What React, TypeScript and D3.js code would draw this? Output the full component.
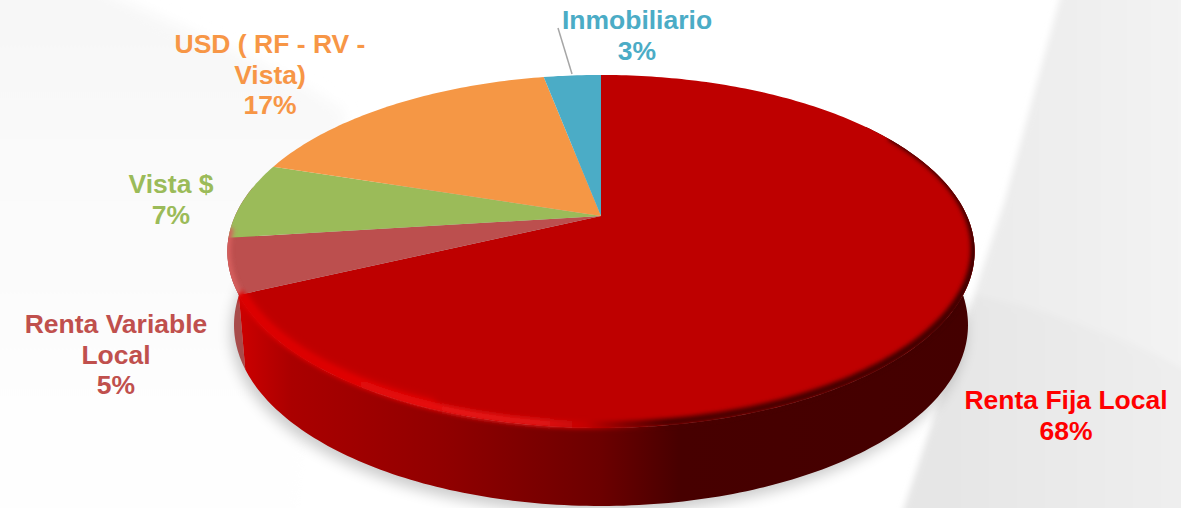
import React, { useEffect, useRef } from 'react';
import * as d3 from 'd3';

const categories = ['Renta Fija Local', 'Renta Variable Local', 'Vista $', 'USD ( RF - RV - Vista)', 'Inmobiliario'];
const values = [68, 5, 7, 17, 3];
const faceColors = ['#be0000', '#bc4f4e', '#9bbb59', '#f59745', '#4bacc6'];
const wallColors = ['url(#wallRed)', '#a84c4b', '#7f9a48', '#c97a38', '#3b8da3'];
const labelColors = ['#ff0000', '#c0504d', '#9bbb59', '#f79646', '#4bacc6'];
const labelLines = [
  ['Renta Fija Local'],
  ['Renta Variable', 'Local'],
  ['Vista $'],
  ['USD ( RF - RV -', 'Vista)'],
  ['Inmobiliario'],
];
const labelAnchors = [[1066, 409], [116, 333], [171, 193], [270, 53], [637, 29]];

const width = 1181;
const height = 508;
const cx = 601;
const persp = 0.201;

const scaleX = d3.scaleLinear().domain([0, 1]).range([366, 359.5]);
const scaleY = d3.scaleLinear().domain([0, 1]).range([169.4, 173.7]);
const y0 = d3.scaleLinear().domain([0, 1]).range([216, 288.6]);

// circle -> tilted ellipse, the far side of the pie is squeezed
const project = (t: number, z: number, r = 1) => {
  const u = r * Math.sin(t);
  const v = -r * Math.cos(t);
  const d = 1 - persp * v;
  return [cx + (scaleX(z) * u) / d, y0(z) + (scaleY(z) * v) / d] as [number, number];
};

const arcPoints = (a0: number, a1: number, z: number) => {
  const n = Math.max(2, Math.ceil(Math.abs(a1 - a0) * 60));
  return d3.range(n + 1).map((i) => project(a0 + ((a1 - a0) * i) / n, z));
};

const line = d3.line();

const App = () => {
  const chartRef = useRef<HTMLDivElement>(null);
  useEffect(() => {
    document.body.style.margin = '0';
    d3.select(chartRef.current).selectAll('svg').remove();

    const svg = d3.select(chartRef.current)
      .append('svg')
      .attr('width', width)
      .attr('height', height)
      .style('display', 'block')
      .style('background', '#ffffff');

    const defs = svg.append('defs');
    const gradient = (id: string, stops: [number, string][], x1 = 240, x2 = 975, y1 = 0, y2 = 0) => {
      const g = defs.append('linearGradient')
        .attr('id', id)
        .attr('gradientUnits', 'userSpaceOnUse')
        .attr('x1', x1).attr('x2', x2).attr('y1', y1).attr('y2', y2);
      stops.forEach(([o, c]) => g.append('stop').attr('offset', o).attr('stop-color', c));
    };
    gradient('wallRed', [[0, '#cc0000'], [0.07, '#aa0000'], [0.28, '#900000'], [0.49, '#6c0000'], [0.6, '#470000'], [1, '#440000']]);
    gradient('rimRed', [[0, '#dc0000'], [0.1, '#dc0000'], [0.28, '#e81212'], [0.41, '#e01616'], [0.47, '#c40000'], [0.53, '#7c0000'], [0.58, '#4a0000'], [1, '#3e0000']]);
    gradient('bgTopLeft', [[0, '#f7f7f7'], [0.6, '#fbfbfb'], [1, '#fefefe']], 0, 0, 0, 420);
    gradient('bgRight', [[0, '#ececec'], [1, '#f3f3f3']], 1005, 1181);
    gradient('bgBand', [[0, '#e6e6e6'], [1, '#eeeeee']], 950, 1181);
    const blur = (id: string, dev: number) => defs.append('filter').attr('id', id)
      .attr('filterUnits', 'userSpaceOnUse')
      .attr('x', -40).attr('y', -40).attr('width', width + 80).attr('height', height + 80)
      .append('feGaussianBlur').attr('stdDeviation', dev);
    blur('soft', 2.2);
    blur('corner', 3.5);
    blur('shadow', 7);
    blur('bgBlur', 3);
    blur('bgBlurWide', 7);

    // backdrop shapes behind the chart
    svg.append('path')
      .attr('d', 'M-20,-20 L80,-20 C170,25 270,60 345,112 L300,520 L-20,520 Z')
      .attr('fill', 'url(#bgTopLeft)')
      .attr('filter', 'url(#bgBlurWide)');
    const bg = svg.append('g').attr('filter', 'url(#bgBlur)');
    bg.append('path')
      .attr('d', 'M1062,-10 L1005,200 L900,520 L1195,520 L1195,-10 Z')
      .attr('fill', 'url(#bgRight)');
    bg.append('path')
      .attr('d', 'M975,295 C1050,310 1120,335 1195,375 L1195,520 L900,520 Z')
      .attr('fill', 'url(#bgBand)');

    const pie = d3.pie<number>().value((d) => d).sort(null);
    const arcs = pie(values);
    const full = d3.range(0, 361, 3).map((d) => (d * Math.PI) / 180);

    // soft shadow below the disc
    svg.append('path')
      .attr('d', line(full.map((t) => {
        const [x, y] = project(t, 1);
        return [x - 3, y + 7] as [number, number];
      })))
      .attr('fill', '#000000')
      .attr('opacity', 0.2)
      .attr('filter', 'url(#shadow)');

    const clip = defs.append('clipPath').attr('id', 'discClip');
    clip.append('path').attr('d', line(full.map((t) => project(t, 0))) + 'Z');

    // outer walls, only the slices that face the viewer
    arcs.slice(0, 2).reverse().forEach((a) => {
      const i = a.index;
      const a0 = i === 0 ? Math.PI * 0.3 : a.startAngle;
      const a1 = i === 0 ? a.endAngle : a.endAngle + 0.3;
      const d = line(arcPoints(a0, a1, 0).concat(arcPoints(a1, a0, 1))) + 'Z';
      svg.append('path')
        .attr('d', d)
        .attr('fill', wallColors[i]);
      clip.append('path').attr('d', d);
    });

    // top face
    const face = svg.append('g');
    arcs.forEach((a) => {
      const pts = [project(0, 0, 0)].concat(arcPoints(a.startAngle, a.endAngle, 0));
      face.append('path')
        .attr('d', line(pts) + 'Z')
        .attr('fill', faceColors[a.index]);
    });

    // bevel along the rim, lifted a little so it sits on the face
    const lifted = (a0: number, a1: number, dy: number) =>
      line(arcPoints(a0, a1, 0).map((p) => [p[0], p[1] - dy] as [number, number]));
    const faceClip = defs.append('clipPath').attr('id', 'faceClip');
    const redSlice = [project(0, 0, 0)].concat(arcPoints(arcs[0].startAngle, arcs[0].endAngle, 0));
    faceClip.append('path').attr('d', line(redSlice) + 'Z');

    svg.append('g').attr('clip-path', 'url(#faceClip)')
      .append('path')
      .attr('d', lifted(arcs[0].endAngle - 0.75, arcs[0].endAngle + 0.1, 3))
      .attr('fill', 'none')
      .attr('stroke', '#de0000')
      .attr('stroke-width', 13)
      .attr('filter', 'url(#corner)');

    const bevel = svg.append('g').attr('clip-path', 'url(#discClip)');
    bevel.append('path')
      .attr('d', lifted(1.05, arcs[0].endAngle, 3))
      .attr('fill', 'none')
      .attr('stroke', 'url(#rimRed)')
      .attr('stroke-width', 8)
      .attr('filter', 'url(#soft)');
    bevel.append('path')
      .attr('d', lifted(arcs[1].startAngle, arcs[1].endAngle + 0.05, 1))
      .attr('fill', 'none')
      .attr('stroke', '#d65e5d')
      .attr('stroke-width', 7)
      .attr('filter', 'url(#soft)');

    // leader line for the small slice
    svg.append('line')
      .attr('x1', 558).attr('y1', 28)
      .attr('x2', 572).attr('y2', 74)
      .attr('stroke', '#a6a6a6')
      .attr('stroke-width', 1.5);

    // labels
    const labels = svg.append('g')
      .attr('font-family', '"Liberation Sans", Arial, sans-serif')
      .attr('font-weight', 'bold')
      .attr('font-size', 26.5)
      .attr('text-anchor', 'middle');
    categories.forEach((c, i) => {
      const rows = [...labelLines[i], `${values[i]}%`];
      const text = labels.append('text')
        .attr('fill', labelColors[i])
        .attr('aria-label', c);
      rows.forEach((r, j) => {
        text.append('tspan')
          .attr('x', labelAnchors[i][0])
          .attr('y', labelAnchors[i][1] + j * 30.7)
          .text(r);
      });
    });
  }, []);

  return (
    <div ref={chartRef}></div>
  );
};

export default App;
